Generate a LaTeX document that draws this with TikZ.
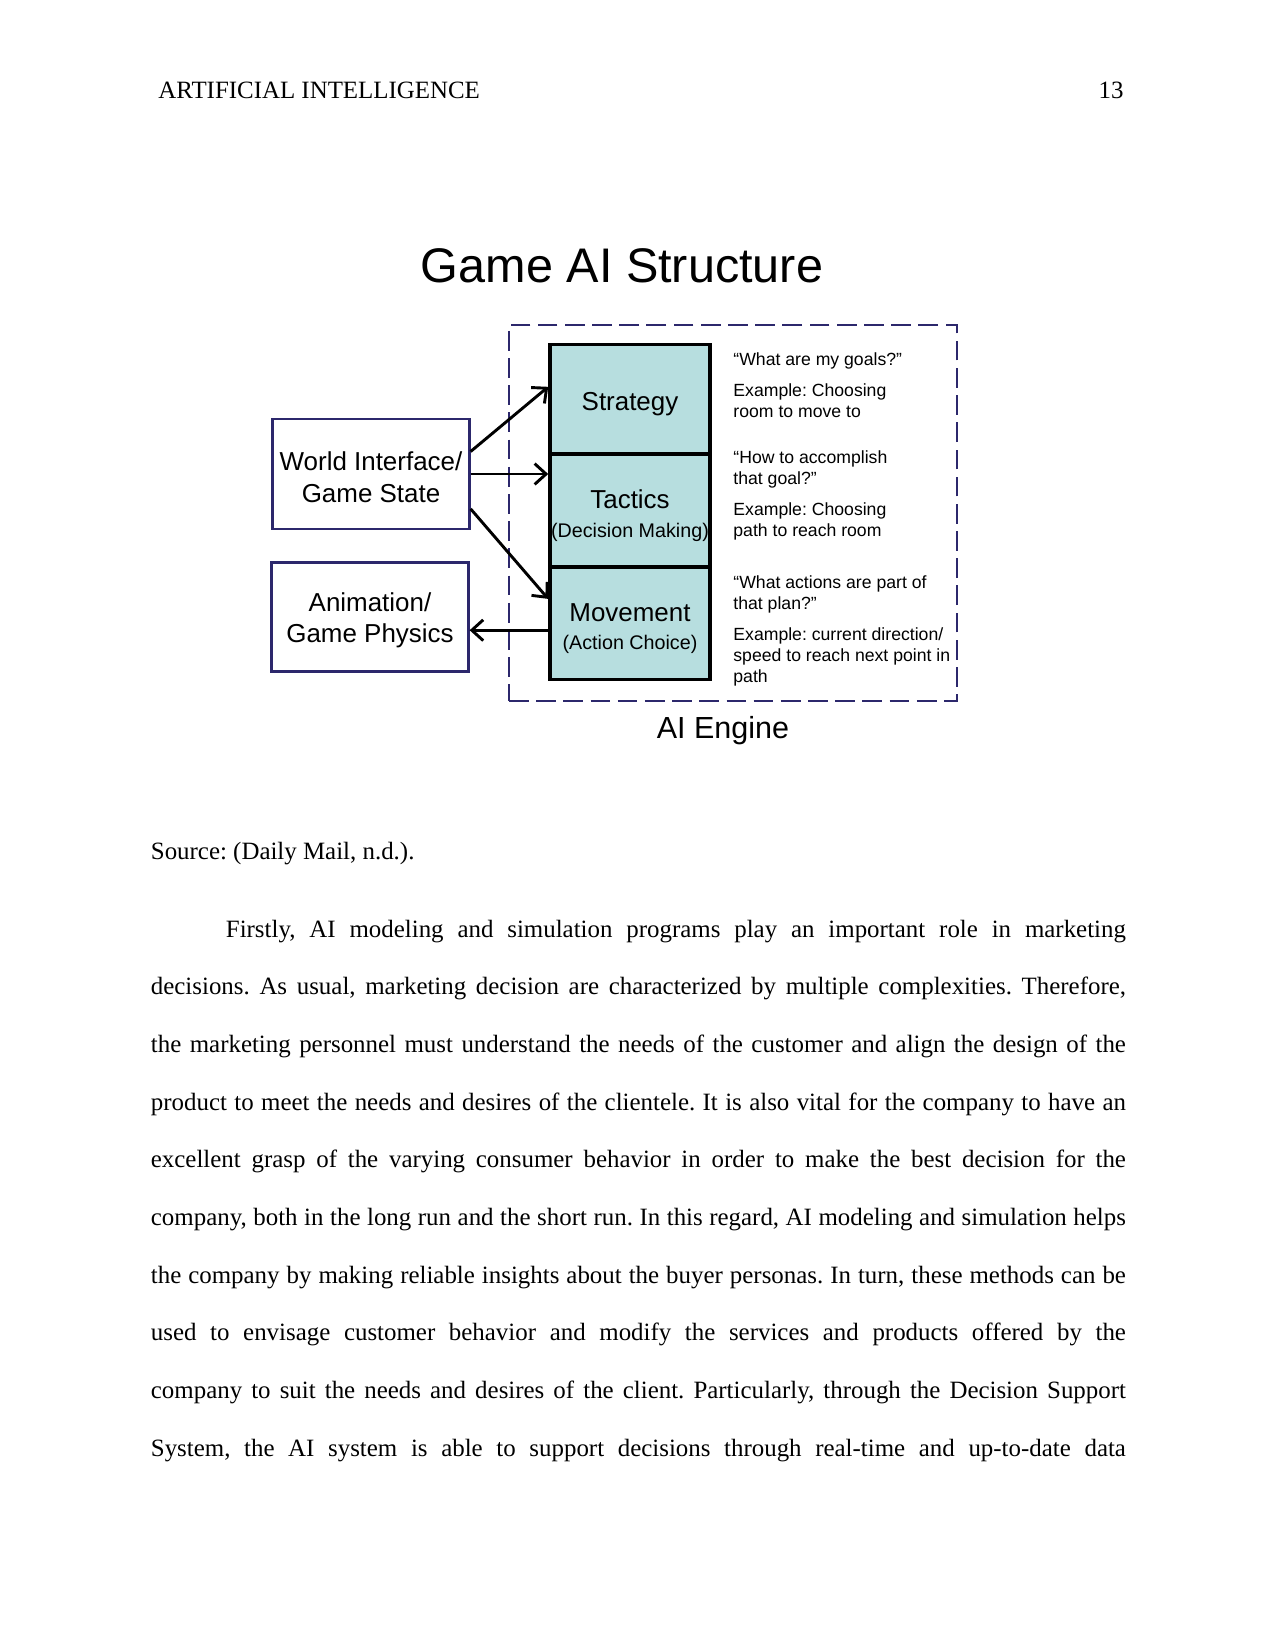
\documentclass[tikz,border=0pt]{standalone}
\usepackage{fontspec}
\setmainfont{Liberation Serif}
\newfontfamily\arialfont{Liberation Sans}
\usetikzlibrary{arrows.meta,calc}
\definecolor{framenavy}{RGB}{44,40,108}
\definecolor{boxteal}{RGB}{183,222,223}
\frenchspacing

\begin{document}
\begin{tikzpicture}[x=0.16933mm,y=-0.16933mm,
  pagetext/.style={inner sep=0pt,font=\fontsize{12}{13}\selectfont},
  sidebox/.style={draw=framenavy,line width=1.25pt,minimum width=33.3mm,minimum height=18.6mm,inner sep=0pt},
  sidetext/.style={inner sep=0pt,align=center,font=\arialfont\fontsize{12.5}{15.2}\selectfont,yshift=-1.5pt},
  aibox/.style={draw=black,fill=boxteal,line width=1.7pt,minimum width=27.1mm,inner sep=0pt},
  aitext/.style={inner sep=0pt,align=center,font=\arialfont\fontsize{12.5}{13.6}\selectfont,yshift=-2.5pt},
  notetext/.style={anchor=base west,inner sep=0pt,align=left,font=\arialfont\fontsize{8.5}{10.1}\selectfont},
  engine/.style={draw=framenavy,line width=1.4pt,dash pattern=on 9.5pt off 3.6pt,minimum width=75.86mm,minimum height=63.67mm,inner sep=0pt},
  flow/.style={line width=1.4pt,-{Straight Barb[length=5.5pt,width=10pt]}}]

\useasboundingbox[fill=white] (0,0) rectangle (1275,1651);

%Header
\node[pagetext,anchor=base west] (head) at (158,98) {ARTIFICIAL INTELLIGENCE};
\node[pagetext,anchor=base east] (pageno) at (1124,98) {13};

%Figure
\node[inner sep=0pt,anchor=base,font=\arialfont\fontsize{23.4}{28}\selectfont] (title) at (622,282) {Game AI Structure};

\node[engine] (engine) at (733,513) {};
\node[inner sep=0pt,anchor=base,font=\arialfont\fontsize{14.7}{17}\selectfont] (enginelbl) at (723,738) {AI Engine};

\node[sidebox,label={[sidetext]center:World Interface/\\Game State}] (world) at (371,474) {};
\node[sidebox,minimum height=18.5mm,label={[sidetext]center:Animation/\\Game Physics}] (anim) at (370,617) {};

\node[aibox,minimum height=18.54mm,label={[aitext]center:Strategy}] (strat) at (630,399.25) {};
\node[aibox,minimum height=19.13mm,label={[aitext]center:Tactics\\{\fontsize{9.5}{13.6}\selectfont(Decision Making)}}] (tact) at (630,510.5) {};
\node[aibox,minimum height=19.05mm,label={[aitext]center:Movement\\{\fontsize{9.5}{13.6}\selectfont(Action Choice)}}] (mov) at (630,623.25) {};

%Notes, placed by their last line
\node[notetext] (note1) at (733,417.6) {“What are my goals?”\\[5.1pt]Example: Choosing\\room to move to};
\node[notetext] (note2) at (733,536.6) {“How to accomplish\\that goal?”\\[5.1pt]Example: Choosing\\path to reach room};
\node[notetext] (note3) at (733,682.6) {“What actions are part of\\that plan?”\\[5.1pt]Example: current direction/\\speed to reach next point in\\path};

\draw[flow] ($(world.north east)!0.3!(world.south east)$) -- ($(strat.north west)!0.39!(strat.south west)$);
\draw[flow] (world.east) -- (world.east -| tact.west);
\draw[flow] ($(world.north east)!0.81!(world.south east)$) -- ($(mov.north west)!0.29!(mov.south west)$);
\coordinate (back) at ($(mov.north west)!0.56!(mov.south west)$);
\draw[flow] (back) -- (back -| anim.east);

%Text
\node[pagetext,anchor=base west] (source) at (150.5,859) {Source: (Daily Mail, n.d.).};
\node[pagetext,anchor=base west,text width=6.5in,align=justify,font=\fontsize{12}{27.8}\selectfont] (para) at (150.5,937) {\tolerance=10000\hyphenpenalty=10000\exhyphenpenalty=10000
\spaceskip=0.25em plus 0.5em minus 0.12em
\hspace*{0.5in}Firstly, AI modeling and simulation programs play an important role in marketing\linebreak
decisions. As usual, marketing decision are characterized by multiple complexities. Therefore,\linebreak
the marketing personnel must understand the needs of the customer and align the design of the\linebreak
product to meet the needs and desires of the clientele. It is also vital for the company to have an\linebreak
excellent grasp of the varying consumer behavior in order to make the best decision for the\linebreak
company, both in the long run and the short run. In this regard, AI modeling and simulation helps\linebreak
the company by making reliable insights about the buyer personas. In turn, these methods can be\linebreak
used to envisage customer behavior and modify the services and products offered by the\linebreak
company to suit the needs and desires of the client. Particularly, through the Decision Support\linebreak
System, the AI system is able to support decisions through real-time and up-to-date data\linebreak};

\end{tikzpicture}
\end{document}
